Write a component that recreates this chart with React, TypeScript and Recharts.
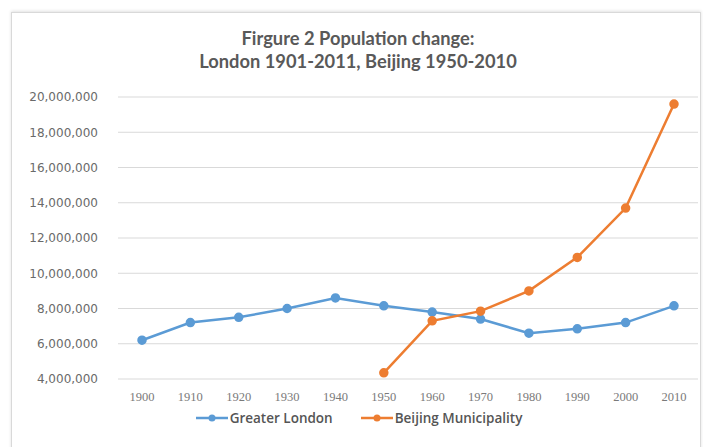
import React from 'react';
import { LineChart, Line, XAxis, YAxis, CartesianGrid, Legend } from 'recharts';

const years = ['1900', '1910', '1920', '1930', '1940', '1950', '1960', '1970', '1980', '1990', '2000', '2010'];
const greaterLondon = [6200000, 7200000, 7500000, 8000000, 8600000, 8150000, 7800000, 7400000, 6600000, 6850000, 7200000, 8150000];
const beijing = [null, null, null, null, null, 4350000, 7300000, 7850000, 9000000, 10900000, 13700000, 19600000];
const yTicks = [4000000, 6000000, 8000000, 10000000, 12000000, 14000000, 16000000, 18000000, 20000000];

const titleLine1 = 'Firgure 2 Population change:';
const titleLine2 = 'London 1901-2011, Beijing 1950-2010';
const seriesNames = ['Greater London', 'Beijing Municipality'];
const colors = ['#5b9bd5', '#ed7d31'];

const data = years.map((y, i) => ({ year: y, london: greaterLondon[i], beijing: beijing[i] }));

const fmt = (v: number) => v.toLocaleString('en-US');

const LegendContent = () => (
  <div style={{ display: 'flex', justifyContent: 'center', gap: 28, fontFamily: '"Open Sans", sans-serif', fontSize: 13.5, fontWeight: 600, color: '#555', paddingLeft: 20 }}>
    {seriesNames.map((n, i) => (
      <div key={n} style={{ display: 'flex', alignItems: 'center' }}>
        <svg width={32} height={10} style={{ marginRight: 2 }}>
          <line x1={0} y1={5} x2={32} y2={5} stroke={colors[i]} strokeWidth={2.5} />
          <circle cx={16} cy={5} r={3.5} fill={colors[i]} />
        </svg>
        <span>{n}</span>
      </div>
    ))}
  </div>
);

export default function App() {
  return (
    <div style={{ position: 'absolute', left: 0, top: 0, width: 703, height: 447, background: '#fff', overflow: 'hidden' }}>
      <div style={{ position: 'absolute', left: 11, top: 12, width: 688, height: 440, border: '1px solid #d9d9d9', boxShadow: '0 -1px 3px rgba(0,0,0,0.12)' }} />
      <div style={{ position: 'absolute', left: 0, top: 27, width: 716, textAlign: 'center', fontFamily: 'Lato, sans-serif', fontWeight: 700, fontSize: 18.3, color: '#595959', lineHeight: '23px' }}>
        <div>{titleLine1}</div>
        <div>{titleLine2}</div>
      </div>
      <div style={{ position: 'absolute', left: 0, top: 0 }}>
        <LineChart width={703} height={447} data={data} margin={{ top: 97, right: 5, bottom: 8, left: 0 }}>
          <CartesianGrid vertical={false} stroke="#d9d9d9" />
          <XAxis dataKey="year" tickLine={false} axisLine={false} padding={{ left: 24, right: 24 }} tickMargin={7}
            tick={{ fontFamily: '"Liberation Serif", serif', fontSize: 12.5, fill: '#7a7a7a' }} />
          <YAxis width={118} domain={[4000000, 20000000]} ticks={yTicks} tickFormatter={fmt} tickLine={false} axisLine={false} tickMargin={14}
            tick={{ fontFamily: '"DejaVu Sans", sans-serif', fontSize: 12, fill: '#6a6a6a' }} interval={0} />
          <Legend verticalAlign="bottom" height={30} content={<LegendContent />} />
          <Line type="linear" dataKey="london" name={seriesNames[0]} stroke={colors[0]} strokeWidth={2.5}
            dot={{ r: 3.5, fill: colors[0], stroke: colors[0] }} isAnimationActive={false} />
          <Line type="linear" dataKey="beijing" name={seriesNames[1]} stroke={colors[1]} strokeWidth={2.5}
            dot={{ r: 3.5, fill: colors[1], stroke: colors[1] }} isAnimationActive={false} />
        </LineChart>
      </div>
    </div>
  );
}
